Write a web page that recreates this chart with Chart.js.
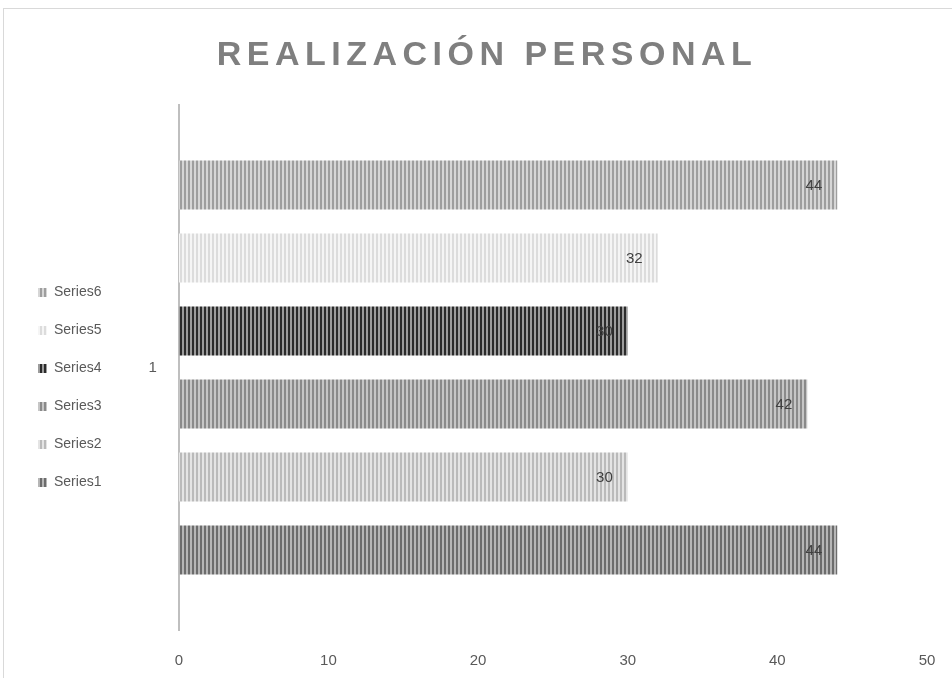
<!DOCTYPE html>
<html>
<head>
<meta charset="utf-8">
<script src="https://cdn.jsdelivr.net/npm/chart.js@4/dist/chart.umd.min.js"></script>
<style>
  html, body { margin: 0; padding: 0; background: #fff; }
  #wrap { width: 952px; height: 678px; }
</style>
</head>
<body>
<div id="wrap"><canvas id="chart" width="952" height="678"></canvas></div>
<script>
// Chart data (Excel draws the last series at the top, so the order is reversed here)
const chartTitle = 'REALIZACIÓN PERSONAL';
const categories = ['1'];
const seriesNames = ['Series6', 'Series5', 'Series4', 'Series3', 'Series2', 'Series1'];
const seriesValues = [44, 32, 30, 42, 30, 44];
const xTicks = [0, 10, 20, 30, 40, 50];

// Stripe colours for each series (dark stripe, light stripe)
const stripeColors = [
    ['#9e9e9e', '#d6d6d6'],
    ['#dcdcdc', '#f5f5f5'],
    ['#2b2b2b', '#9c9c9c'],
    ['#8a8a8a', '#c6c6c6'],
    ['#bababa', '#e4e4e4'],
    ['#6c6c6c', '#b6b6b6']
];

// Build a vertical stripe pattern like Excel's
function makeStripes(dark, light) {
    const c = document.createElement('canvas');
    c.width = 4;
    c.height = 4;
    const g = c.getContext('2d');
    g.fillStyle = light;
    g.fillRect(0, 0, 4, 4);
    g.fillStyle = dark;
    g.fillRect(0, 0, 2, 4);
    return g.createPattern(c, 'repeat');
}

// Outer frame of the chart
const framePlugin = {
    id: 'frame',
    beforeDraw(chart) {
        const ctx = chart.ctx;
        ctx.save();
        ctx.strokeStyle = '#d9d9d9';
        ctx.lineWidth = 1;
        ctx.strokeRect(3.5, 8.5, 1000, 1000);
        ctx.restore();
    }
};

// Spaced out title
const titlePlugin = {
    id: 'spacedTitle',
    afterDraw(chart) {
        const ctx = chart.ctx;
        ctx.save();
        ctx.font = 'bold 34px "Liberation Sans", Arial, sans-serif';
        ctx.letterSpacing = '5.5px';
        ctx.fillStyle = '#7f7f7f';
        ctx.textAlign = 'center';
        ctx.textBaseline = 'middle';
        ctx.fillText(chartTitle, 487, 56);
        ctx.restore();
    }
};

// Value labels at the inside end of each bar
const labelPlugin = {
    id: 'barLabels',
    afterDatasetsDraw(chart) {
        const ctx = chart.ctx;
        ctx.save();
        ctx.font = '15px "Liberation Sans", Arial, sans-serif';
        ctx.fillStyle = '#404040';
        ctx.textAlign = 'right';
        ctx.textBaseline = 'middle';
        chart.data.datasets.forEach((ds, i) => {
            chart.getDatasetMeta(i).data.forEach((bar, j) => {
                ctx.fillText(ds.data[j], bar.x - 15, bar.y + 1);
            });
        });
        ctx.restore();
    }
};

const ctx = document.getElementById('chart').getContext('2d');
const datasets = seriesNames.map((name, i) => ({
    label: name,
    data: [seriesValues[i]],
    backgroundColor: makeStripes(stripeColors[i][0], stripeColors[i][1]),
    borderWidth: 0,
    categoryPercentage: 0.834,
    barPercentage: 0.67
}));

new Chart(ctx, {
    type: 'bar',
    data: { labels: categories, datasets: datasets },
    options: {
        indexAxis: 'y',
        responsive: false,
        animation: false,
        layout: { padding: { top: 105, bottom: 8, left: 14, right: 25 } },
        plugins: {
            title: { display: false },
            tooltip: { enabled: false },
            legend: {
                position: 'left',
                labels: {
                    boxWidth: 9,
                    boxHeight: 9,
                    padding: 24,
                    color: '#595959',
                    font: { family: '"Liberation Sans", Arial, sans-serif', size: 14 }
                }
            }
        },
        scales: {
            x: {
                min: 0,
                max: 50,
                afterBuildTicks(scale) {
                    scale.ticks = xTicks.map(v => ({ value: v }));
                },
                afterFit(scale) {
                    // tick padding would otherwise widen the side margins too
                    scale.height = 40;
                    scale.paddingLeft = 8;
                    scale.paddingRight = 8;
                },
                grid: { display: false, drawTicks: false },
                border: { display: false },
                ticks: {
                    padding: 22,
                    color: '#595959',
                    font: { family: '"Liberation Sans", Arial, sans-serif', size: 15 }
                }
            },
            y: {
                afterFit(scale) {
                    scale.width += 15;
                },
                grid: { display: false, drawTicks: false },
                border: { display: true, color: '#bfbfbf', width: 2 },
                ticks: {
                    padding: 22,
                    color: '#595959',
                    font: { family: '"Liberation Sans", Arial, sans-serif', size: 15 }
                }
            }
        }
    },
    plugins: [framePlugin, titlePlugin, labelPlugin]
});
</script>
</body>
</html>
